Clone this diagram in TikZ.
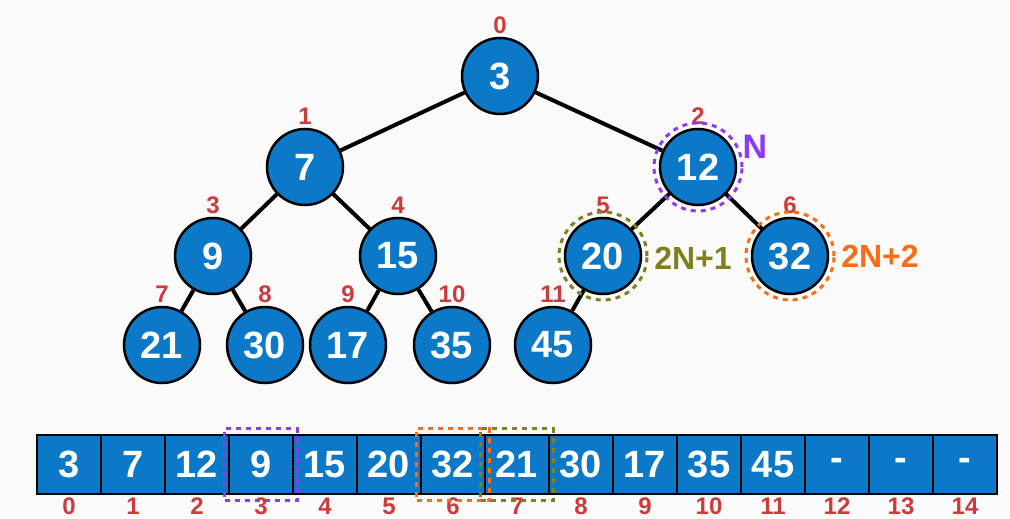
\documentclass[tikz,border=0pt]{standalone}
\usepackage{fontspec}
\setmainfont{Liberation Sans}
\usepackage{xcolor}
\usepackage{tikz}
\usetikzlibrary{positioning,fit}
\definecolor{heapblue}{HTML}{0B78C8}
\definecolor{idxred}{HTML}{CC3B3B}
\definecolor{npurple}{HTML}{8C3CF0}
\definecolor{nolive}{HTML}{808020}
\definecolor{norange}{HTML}{F86E14}

\begin{document}
\begin{tikzpicture}[x=1pt,y=-1pt,
  heapnode/.style={circle,draw,line width=2.5pt,fill=heapblue,text=white,minimum size=76pt,inner sep=0pt,font=\fontsize{38}{40}\selectfont\bfseries},
  slot/.style={draw,line width=2.5pt,fill=heapblue,text=white,minimum width=64pt,minimum height=59pt,inner sep=0pt,font=\fontsize{38}{40}\selectfont\bfseries},
  idx/.style={text=idxred,inner sep=0pt,font=\fontsize{24}{25}\selectfont\bfseries},
  ring/.style={circle,draw=#1,dash pattern=on 5pt off 5pt,line width=3pt,minimum size=88pt,inner sep=0pt},
  hbox/.style={draw=#1,dash pattern=on 5pt off 5pt,line width=3pt,inner xsep=3pt,inner ysep=5pt},
  link/.style={line width=4pt}]
  \fill[white!98!black] (0,0) rectangle (1010,519);
  \useasboundingbox (0,0) rectangle (1010,519);
  % tree
  \foreach \i/\x/\y/\v in {0/500/76/3,1/305/167/7,2/698/167/12,3/213/256/9,4/398/256/15,5/603/256/20,6/790/256/32,7/162/345/21,8/265/345/30,9/348/345/17,10/452/345/35,11/553/345/45}{
    \node[heapnode] (t\i) at (\x,\y) {\v};
    \node[idx] (l\i) at (\x,\y-51) {\i};
  }
  \foreach \a/\b in {0/1,0/2,1/3,1/4,2/5,2/6,3/7,3/8,4/9,4/10,5/11}
    \draw[link] (t\a) -- (t\b);
  \node[ring=npurple] (r2) at (t2) {};
  \node[ring=nolive] (r5) at (t5) {};
  \node[ring=norange] (r6) at (t6) {};
  \node[text=npurple,font=\fontsize{34}{36}\selectfont\bfseries] (nN) at (755,147) {N};
  \node[text=nolive,font=\fontsize{32}{34}\selectfont\bfseries] (nLeft) at (693,258) {2N+1};
  \node[text=norange,font=\fontsize{32}{34}\selectfont\bfseries] (nRight) at (880,256) {2N+2};
  % array
  \foreach \v [count=\i from 0] in {3,7,12,9,15,20,32,21,30,17,35,45,-,-,-}{
    \node[slot] (c\i) at (69+64*\i,464.5) {\v};
    \node[idx] (a\i) at (69+64*\i,506.5) {\i};
  }
  \node[hbox=npurple,fit=(c3)] (b3) {};
  \node[hbox=norange,fit=(c6)] (b6) {};
  \node[hbox=nolive,fit=(c7)] (b7) {};
\end{tikzpicture}
\end{document}
